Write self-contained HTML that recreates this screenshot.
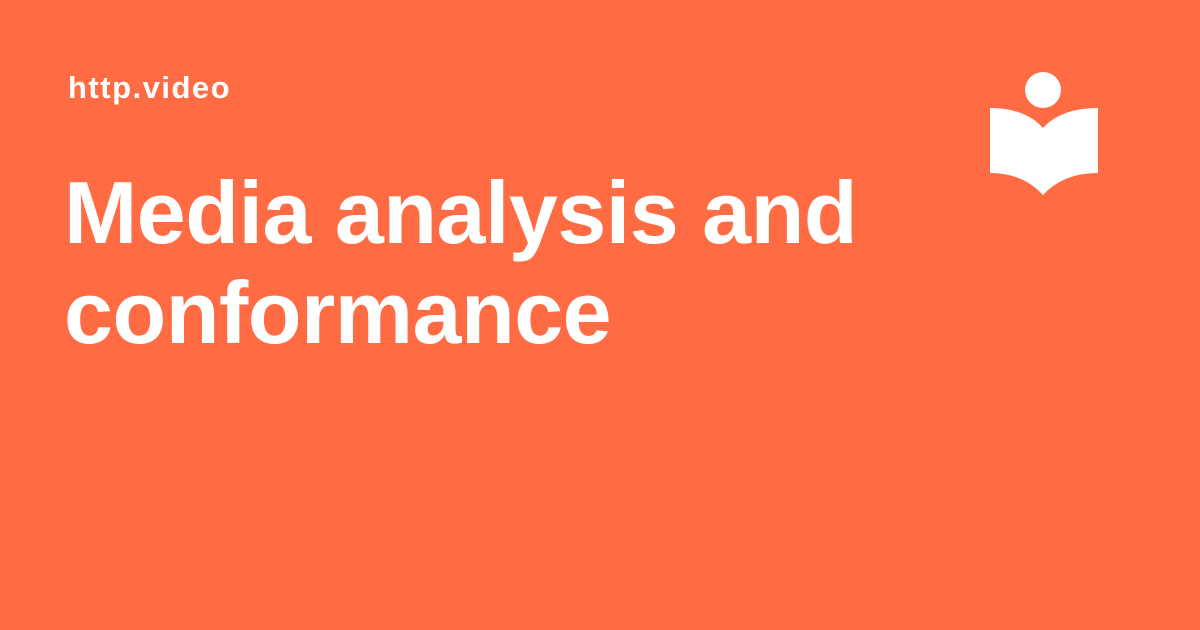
<!DOCTYPE html>
<html><head><meta charset="utf-8"><style>
html,body{margin:0;padding:0}
body{width:1200px;height:630px;background:#FF6C44;position:relative;overflow:hidden;font-family:"Liberation Sans",sans-serif;color:#fff}
#site{position:absolute;left:68px;top:70px;font-size:31px;font-weight:bold;letter-spacing:1.5px}
#title{position:absolute;left:64px;top:163px;font-size:88px;font-weight:bold;line-height:100px;letter-spacing:-0.5px;margin:0}
svg{position:absolute;left:0;top:0}
</style></head><body>
<div id="site">http.video</div>
<h1 id="title">Media analysis and<br>conformance</h1>
<svg width="1200" height="630">
<circle cx="1043" cy="90" r="18" fill="#fff"/>
<path d="M990 108 Q1025 108 1043 128 Q1061 108 1098 108 L1098 173 Q1063 173 1043 195 Q1023 173 990 173 Z" fill="#fff"/>
</svg>
</body></html>
